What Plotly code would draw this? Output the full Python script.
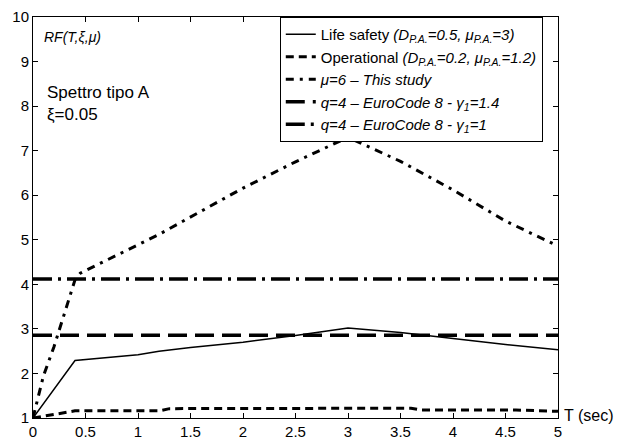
import plotly.graph_objects as go

# Period axis (s) for each spectrum curve
t_life = [0.0, 0.4, 1.0, 1.2, 1.5, 2.0, 2.5, 3.0, 3.5, 4.0, 4.4, 4.5, 5.0]
rf_life = [1.0, 2.29, 2.42, 2.50, 2.58, 2.70, 2.85, 3.02, 2.92, 2.78, 2.67, 2.65, 2.53]

t_oper = [0.0, 0.4, 1.2, 1.3, 3.6, 3.7, 4.6, 5.0]
rf_oper = [1.0, 1.16, 1.16, 1.21, 1.22, 1.18, 1.18, 1.15]

t_mu6 = [0.0, 0.1, 0.2, 0.3, 0.4, 0.45, 0.8, 1.2, 1.6, 2.0, 2.5, 3.0, 3.5, 4.0, 4.5, 5.0]
rf_mu6 = [1.0, 1.95, 2.6, 3.35, 4.1, 4.25, 4.65, 5.12, 5.64, 6.16, 6.75, 7.30, 6.76, 6.12, 5.42, 4.86]

# Eurocode 8 behaviour-factor levels
ec8_t = [0.0, 5.0]
rf_ec8_g14 = 2.86
rf_ec8_g1 = 4.12

x_ticks = [0, 0.5, 1, 1.5, 2, 2.5, 3, 3.5, 4, 4.5, 5]
x_tick_text = ["0", "0.5", "1", "1.5", "2", "2.5", "3", "3.5", "4", "4.5", "5"]
y_ticks = [1, 2, 3, 4, 5, 6, 7, 8, 9, 10]

FONT = "Liberation Sans, Arial, sans-serif"

fig = go.Figure()

fig.add_trace(go.Scatter(
    x=t_life, y=rf_life, mode="lines",
    line=dict(color="black", width=1.5, dash="solid"),
    name="Life safety <i>(D<sub>P.A.</sub>=0.5, μ<sub>P.A.</sub>=3)</i>"))
fig.add_trace(go.Scatter(
    x=t_oper, y=rf_oper, mode="lines",
    line=dict(color="black", width=3, dash="8px,5px"),
    name="Operational <i>(D<sub>P.A.</sub>=0.2, μ<sub>P.A.</sub>=1.2)</i>"))
fig.add_trace(go.Scatter(
    x=t_mu6, y=rf_mu6, mode="lines",
    line=dict(color="black", width=3, dash="8px,6px,3px,6px"),
    name="<i>μ=6 – This study</i>"))
fig.add_trace(go.Scatter(
    x=ec8_t, y=[rf_ec8_g14] * len(ec8_t), mode="lines",
    line=dict(color="black", width=3.5, dash="19px,8px"),
    name="<i>q=4 – EuroCode 8 - γ<sub>1</sub>=1.4</i>"))
fig.add_trace(go.Scatter(
    x=ec8_t, y=[rf_ec8_g1] * len(ec8_t), mode="lines",
    line=dict(color="black", width=3.5, dash="19px,6px,3px,6px"),
    name="<i>q=4 – EuroCode 8 - γ<sub>1</sub>=1</i>"))

axis_common = dict(
    showline=True, linecolor="black", linewidth=1, mirror="ticks",
    ticks="inside", ticklen=5, tickcolor="black", tickwidth=1,
    showgrid=False, zeroline=False,
    tickfont=dict(family=FONT, size=15, color="black"),
)

fig.update_layout(
    width=643, height=448,
    margin=dict(l=33, r=85, t=8, b=27),
    paper_bgcolor="white", plot_bgcolor="white",
    font=dict(family=FONT, color="black"),
    xaxis=dict(range=[0, 5], tickvals=x_ticks, ticktext=x_tick_text, **axis_common),
    yaxis=dict(range=[1, 10], tickvals=y_ticks, **axis_common),
    legend=dict(
        x=0.971, y=1.0, xanchor="right", yanchor="top",
        bgcolor="white", bordercolor="black", borderwidth=1,
        font=dict(family=FONT, size=15, color="black"),
        tracegroupgap=0, itemwidth=30,
    ),
    showlegend=True,
    annotations=[
        dict(x=0.018, y=0.975, xref="paper", yref="paper", xanchor="left", yanchor="top",
             text="<i>RF(T,ξ,μ)</i>", showarrow=False,
             font=dict(family=FONT, size=14, color="black")),
        dict(x=0.022, y=0.84, xref="paper", yref="paper", xanchor="left", yanchor="top",
             text="Spettro tipo A<br>ξ=0.05", showarrow=False, align="left",
             font=dict(family=FONT, size=17, color="black")),
        dict(x=1.0, y=1.06, xref="paper", yref="y", xanchor="left", yanchor="middle",
             xshift=4, text="T (sec)", showarrow=False,
             font=dict(family=FONT, size=16, color="black")),
    ],
)

fig.write_html("out.html")
